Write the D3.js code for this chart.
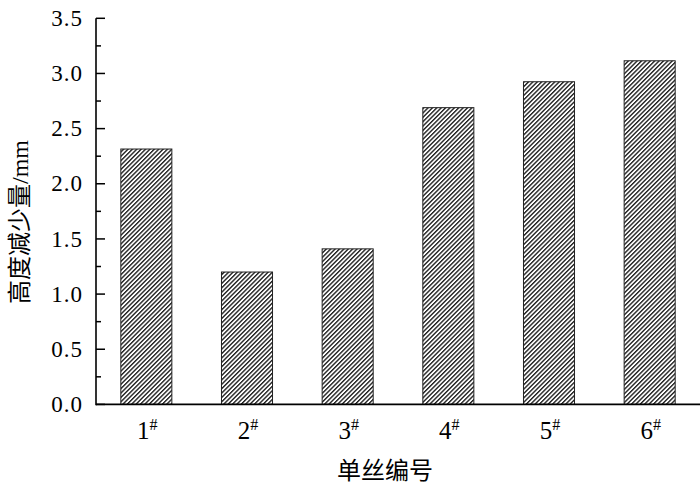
<!DOCTYPE html>
<html>
<meta charset="utf-8">
<style>
body { margin: 0; background: #fff; }
.tick-label { font-family: "Liberation Serif", "Times New Roman", serif; font-size: 23px; fill: #000; }
.title { font-family: "Noto Sans CJK SC", sans-serif; font-size: 24px; fill: #000; }
</style>
<body>
<script src="https://d3js.org/d3.v7.min.js"></script>
<script>
// data
var wires = ["1", "2", "3", "4", "5", "6"];
var drop = [2.315, 1.20, 1.41, 2.69, 2.925, 3.115];
var yTicks = [0, 0.5, 1.0, 1.5, 2.0, 2.5, 3.0, 3.5];

var W = 700, H = 486;
var plot = {left: 96, right: 700, top: 18.3, bottom: 404.4};

var svg = d3.select("body").append("svg")
    .attr("width", W)
    .attr("height", H);

// hatch pattern ////
var defs = svg.append("defs");
defs.append("pattern")
    .attr("id", "hatch")
    .attr("patternUnits", "userSpaceOnUse")
    .attr("width", 3.1)
    .attr("height", 10)
    .attr("patternTransform", "rotate(45)")
  .append("line")
    .attr("x1", 0.7).attr("y1", 0)
    .attr("x2", 0.7).attr("y2", 10)
    .attr("stroke", "#111")
    .attr("stroke-width", 1.3);

var x = d3.scaleBand().domain(wires).range([plot.left, plot.right]).paddingInner(0.493).paddingOuter(0.2465);
var y = d3.scaleLinear().domain([0, 3.5]).range([plot.bottom, plot.top]);

// bars
svg.append("g").selectAll("rect")
    .data(wires)
  .enter().append("rect")
    .attr("x", function(d) { return x(d); })
    .attr("y", function(d, i) { return y(drop[i]); })
    .attr("width", x.bandwidth())
    .attr("height", function(d, i) { return plot.bottom - y(drop[i]); })
    .style("fill", "url(#hatch)")
    .style("stroke", "#222")
    .style("stroke-width", 1);

// y axis, ticks pointing inward
var minor = d3.range(0.25, 3.5, 0.5);
var yg = svg.append("g");
yg.selectAll(".major").data(yTicks).enter().append("line")
    .attr("x1", plot.left).attr("x2", plot.left + 9)
    .attr("y1", function(d) { return y(d); })
    .attr("y2", function(d) { return y(d); })
    .attr("stroke", "#000").attr("stroke-width", 1.5);
yg.selectAll(".minor").data(minor).enter().append("line")
    .attr("x1", plot.left).attr("x2", plot.left + 5)
    .attr("y1", function(d) { return y(d); })
    .attr("y2", function(d) { return y(d); })
    .attr("stroke", "#000").attr("stroke-width", 1.5);
yg.selectAll("text").data(yTicks).enter().append("text")
    .attr("class", "tick-label")
    .attr("x", 83)
    .attr("y", function(d) { return y(d); })
    .attr("dy", "0.33em")
    .attr("text-anchor", "end")
    .attr("letter-spacing", "1")
    .text(function(d) { return d3.format(".1f")(d); });

svg.append("line")
    .attr("x1", plot.left).attr("x2", plot.left)
    .attr("y1", plot.top).attr("y2", plot.bottom + 0.75)
    .attr("stroke", "#000").attr("stroke-width", 1.6);
svg.append("line")
    .attr("x1", plot.left).attr("x2", plot.right)
    .attr("y1", plot.bottom).attr("y2", plot.bottom)
    .attr("stroke", "#000").attr("stroke-width", 1.6);

// x labels with superscript #
var xl = svg.append("g").selectAll("text")
    .data(wires)
  .enter().append("text")
    .attr("class", "tick-label")
    .attr("x", function(d) { return x(d) + x.bandwidth() / 2 + 1; })
    .attr("y", 439)
    .attr("text-anchor", "middle")
    .style("font-size", "25px");
xl.append("tspan").text(function(d) { return d; });
xl.append("tspan")
    .attr("dy", -9)
    .style("font-size", "16px")
    .text("#");

// axis titles
svg.append("text")
    .attr("class", "title")
    .attr("x", 385)
    .attr("y", 479)
    .attr("text-anchor", "middle")
    .text("单丝编号");

svg.append("text")
    .attr("class", "title")
    .attr("transform", "translate(28,222) rotate(-90)")
    .attr("text-anchor", "middle")
    .html('高度减少量<tspan style="font-family:\'Liberation Serif\',serif">/mm</tspan>');
</script>
</body>
</html>
